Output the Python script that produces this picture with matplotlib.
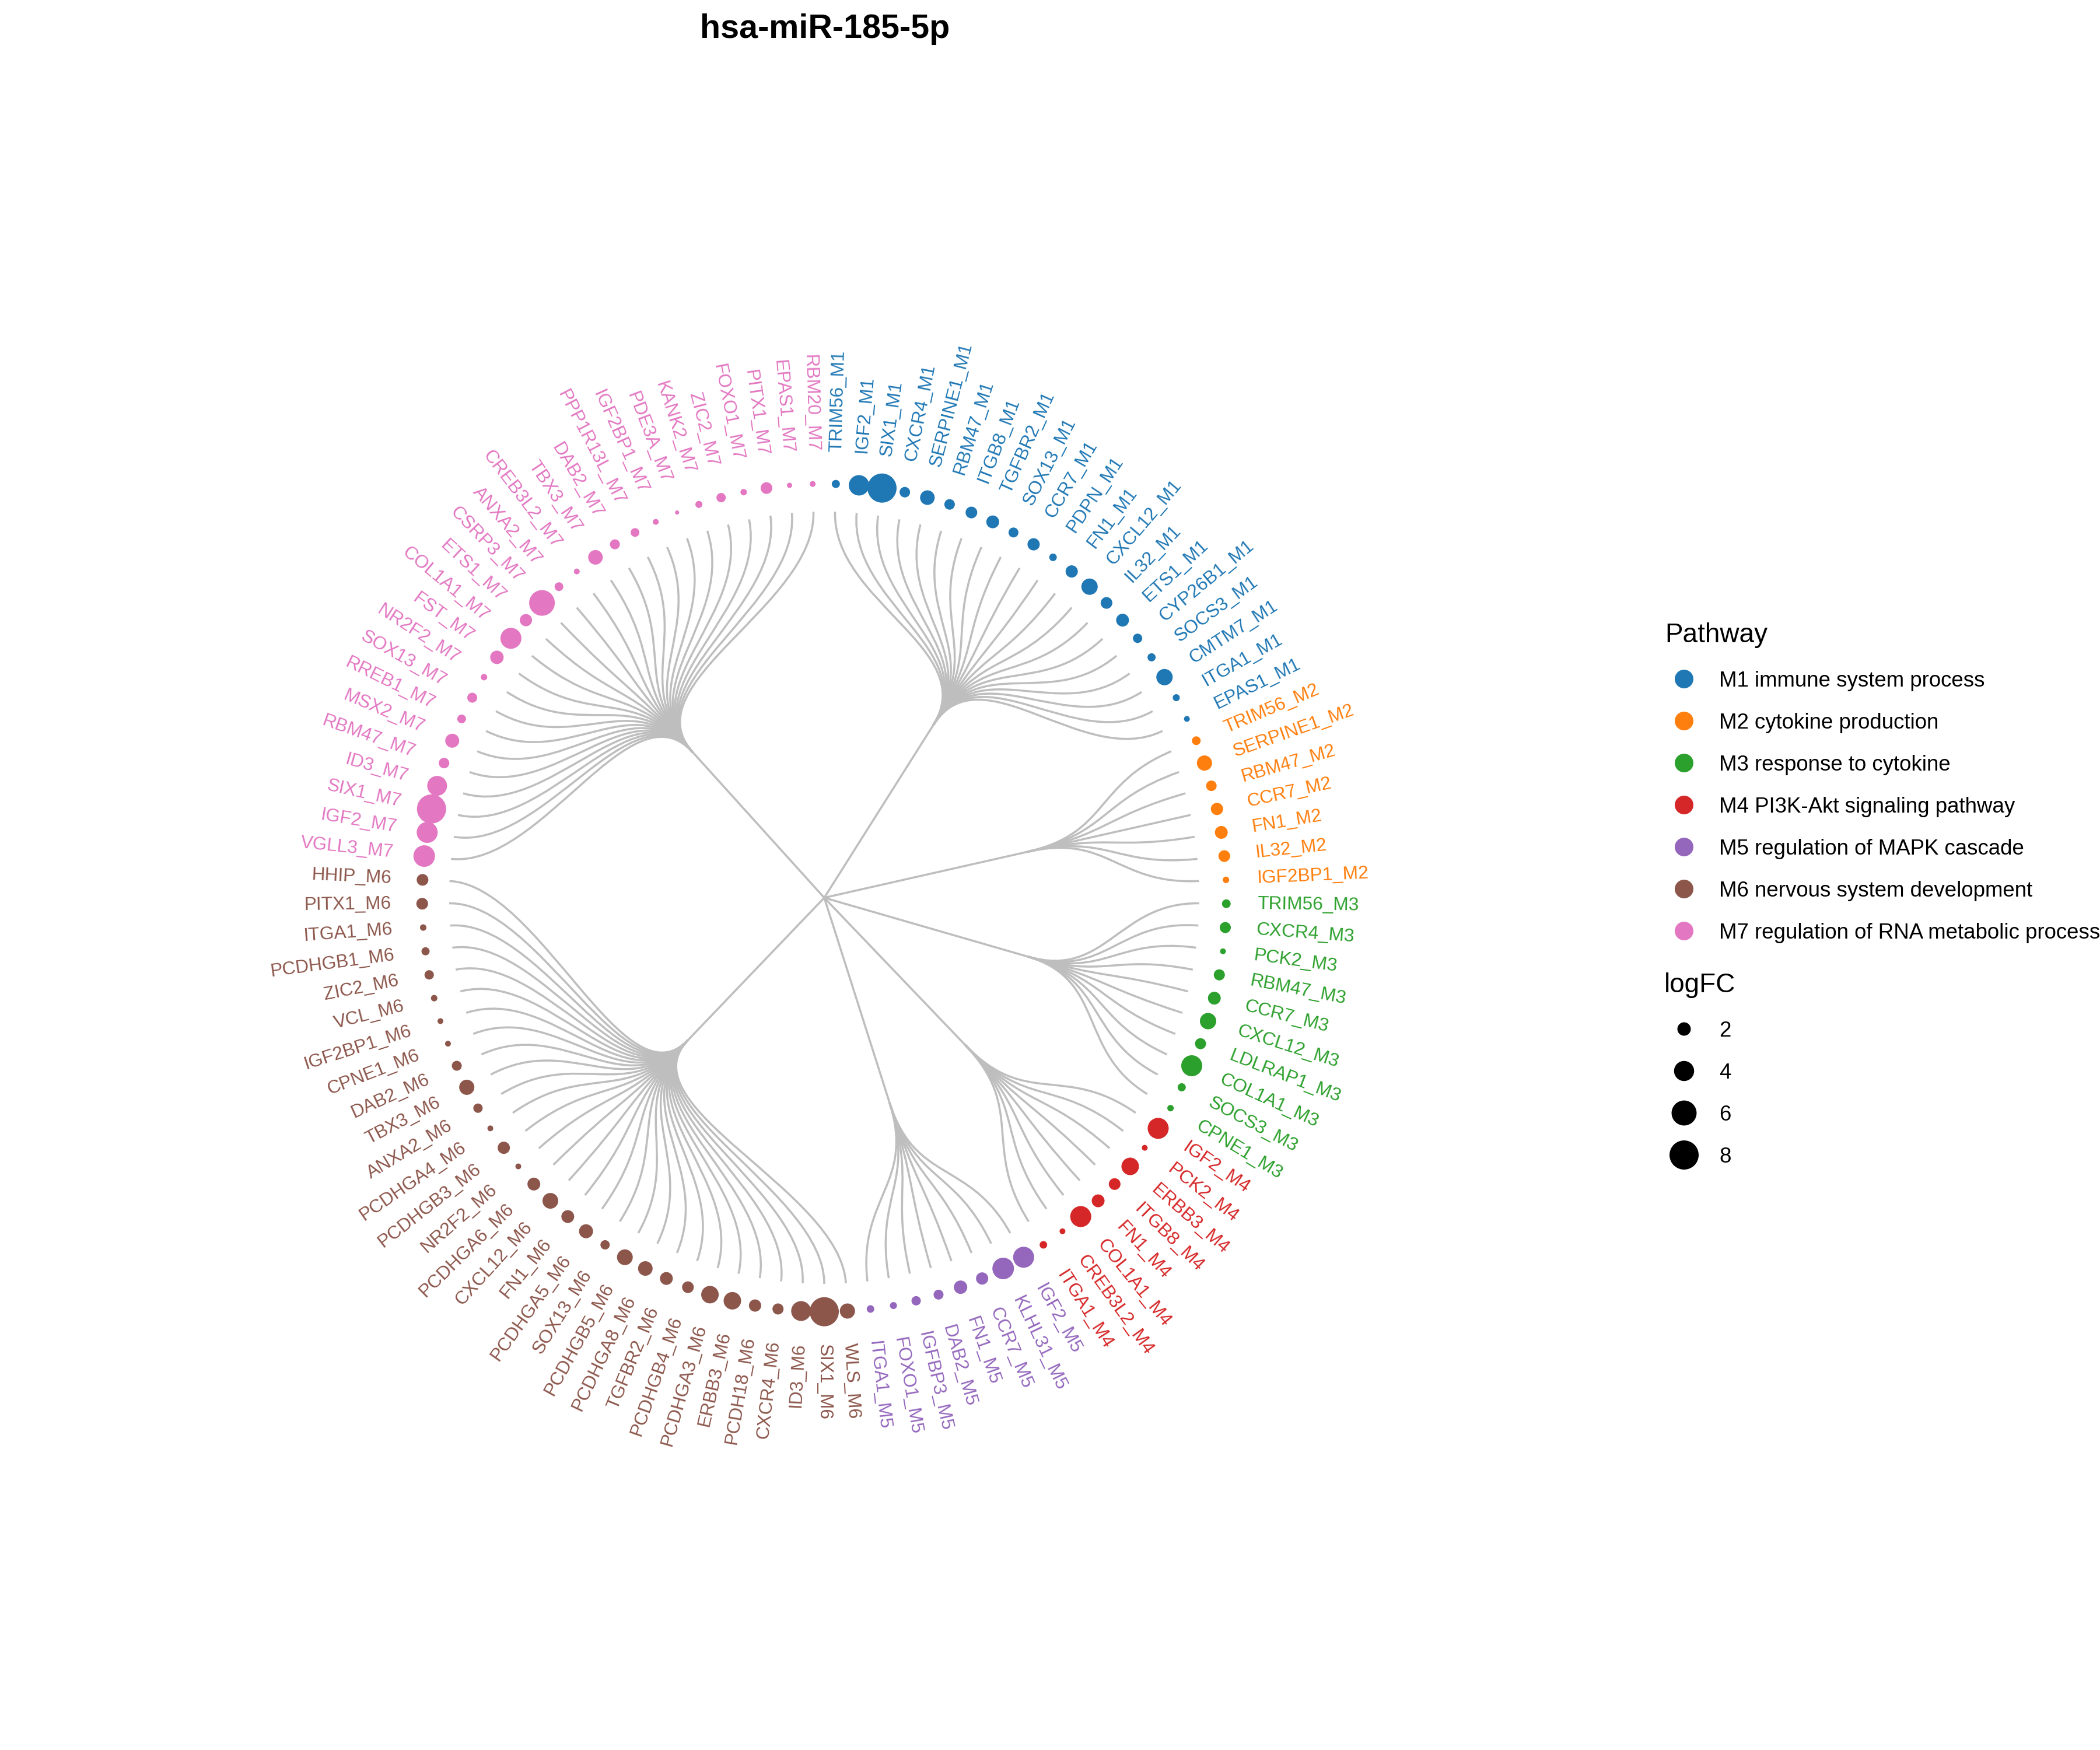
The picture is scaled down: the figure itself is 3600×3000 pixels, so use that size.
import numpy as np
import matplotlib
matplotlib.use("Agg")
import matplotlib.pyplot as plt
from matplotlib.path import Path
from matplotlib.patches import PathPatch

# ---------------- data ----------------
title = "hsa-miR-185-5p"

pathway_names = ["M1 immune system process", "M2 cytokine production",
                 "M3 response to cytokine", "M4 PI3K-Akt signaling pathway",
                 "M5 regulation of MAPK cascade", "M6 nervous system development",
                 "M7 regulation of RNA metabolic process"]
pathway_codes = ["M1", "M2", "M3", "M4", "M5", "M6", "M7"]
pathway_colors = ["#1f77b4", "#ff7f0e", "#2ca02c", "#d62728",
                  "#9467bd", "#8c564b", "#e377c2"]

m1_genes = ["TRIM56", "IGF2", "SIX1", "CXCR4", "SERPINE1", "RBM47", "ITGB8", "TGFBR2",
            "SOX13", "CCR7", "PDPN", "FN1", "CXCL12", "IL32", "ETS1", "CYP26B1",
            "SOCS3", "CMTM7", "ITGA1", "EPAS1"]
m1_logfc = [0.98, 4.12, 8.01, 1.38, 2.29, 1.38, 1.61, 1.86, 1.27, 1.73, 0.90, 1.73,
            2.78, 1.61, 1.86, 1.17, 0.98, 2.78, 0.83, 0.69]

m2_genes = ["TRIM56", "SERPINE1", "RBM47", "CCR7", "FN1", "IL32", "IGF2BP1"]
m2_logfc = [1.07, 2.45, 1.38, 1.73, 1.86, 1.61, 0.76]

m3_genes = ["TRIM56", "CXCR4", "PCK2", "RBM47", "CCR7", "CXCL12", "LDLRAP1",
            "COL1A1", "SOCS3", "CPNE1"]
m3_logfc = [1.07, 1.49, 0.69, 1.49, 1.86, 2.78, 1.49, 4.34, 0.98, 0.76]

m4_genes = ["IGF2", "PCK2", "ERBB3", "ITGB8", "FN1", "COL1A1", "CREB3L2", "ITGA1"]
m4_logfc = [4.34, 0.69, 3.13, 1.61, 1.86, 4.34, 0.69, 0.90]

m5_genes = ["IGF2", "KLHL31", "CCR7", "FN1", "DAB2", "IGFBP3", "FOXO1", "ITGA1"]
m5_logfc = [4.34, 4.56, 1.73, 2.00, 1.27, 1.17, 0.83, 0.90]

m6_genes = ["WLS", "SIX1", "ID3", "CXCR4", "PCDH18", "ERBB3", "PCDHGA3", "PCDHGB4",
            "TGFBR2", "PCDHGA8", "PCDHGB5", "SOX13", "PCDHGA5", "FN1", "CXCL12",
            "PCDHGA6", "NR2F2", "PCDHGB3", "PCDHGA4", "ANXA2", "TBX3", "DAB2",
            "CPNE1", "IGF2BP1", "VCL", "ZIC2", "PCDHGB1", "ITGA1", "PITX1", "HHIP"]
m6_logfc = [2.45, 8.01, 3.91, 1.49, 1.73, 3.13, 3.13, 1.61, 1.86, 2.29, 2.61, 1.17,
            2.14, 1.86, 2.61, 1.86, 0.69, 1.73, 0.69, 1.17, 2.45, 1.27, 0.69, 0.69,
            0.76, 1.17, 0.98, 0.76, 1.61, 1.61]

m7_genes = ["VGLL3", "IGF2", "SIX1", "ID3", "RBM47", "MSX2", "RREB1", "SOX13", "NR2F2",
            "FST", "COL1A1", "ETS1", "CSRP3", "ANXA2", "CREB3L2", "TBX3", "DAB2",
            "PPP1R13L", "IGF2BP1", "PDE3A", "KANK2", "ZIC2", "FOXO1", "PITX1",
            "EPAS1", "RBM20"]
m7_logfc = [4.56, 4.34, 8.01, 3.91, 1.38, 2.14, 1.07, 1.27, 0.76, 2.00, 4.34, 1.73,
            6.29, 1.07, 0.69, 2.29, 1.27, 1.07, 0.69, 0.54, 0.83, 1.17, 0.76, 1.61,
            0.63, 0.69]

# dendrogram heights of module nodes (root = 1, leaves = 0)
module_heights = [0.467, 0.445, 0.437, 0.464, 0.441, 0.482, 0.485]

size_breaks = [2, 4, 6, 8]

module_genes = [m1_genes, m2_genes, m3_genes, m4_genes, m5_genes, m6_genes, m7_genes]
module_logfc = [m1_logfc, m2_logfc, m3_logfc, m4_logfc, m5_logfc, m6_logfc, m7_logfc]

# ---------------- helpers ----------------
DPI = 300
def diam_px(v):
    return np.sqrt(np.maximum(328.0 * np.asarray(v, float) - 127.0, 4.0))

def s_pts(v):
    return (diam_px(v) * 72.0 / DPI) ** 2

FONT = "Liberation Sans"
plt.rcParams["font.family"] = [FONT, "DejaVu Sans"]

W, H = 3600, 3000
CX, CY = 1413, 1539        # centre in pixels (from top-left)
RX, RY = 643, 662          # leaf radius in pixels

fig = plt.figure(figsize=(W / DPI, H / DPI), dpi=DPI)
ax = fig.add_axes([0, 0, 1, 1])
ax.set_xlim(-CX / RX, (W - CX) / RX)
ax.set_ylim(-(H - CY) / RY, CY / RY)
ax.axis("off")

# leaves
labels, colors, logfc, mod_idx = [], [], [], []
for k, (g, v) in enumerate(zip(module_genes, module_logfc)):
    for gene, val in zip(g, v):
        labels.append(f"{gene}_{pathway_codes[k]}")
        colors.append(pathway_colors[k])
        logfc.append(val)
        mod_idx.append(k)
n = len(labels)
theta = (np.arange(n) + 0.5) * 2 * np.pi / n
mod_idx = np.array(mod_idx)

def pol(r, th):
    return r * np.sin(th), r * np.cos(th)

edge_col = "#BEBEBE"
edge_lw = 0.85

for k in range(len(module_genes)):
    th_leaves = theta[mod_idx == k]
    th_n = th_leaves.mean()
    r_n = 1 - module_heights[k]
    nx, ny = pol(r_n, th_n)
    ax.plot([0, nx], [0, ny], color=edge_col, lw=edge_lw, solid_capstyle="butt", zorder=1)
    r_mid = (r_n + 1) / 2
    for th in th_leaves:
        p1 = pol(r_mid, th_n)
        p2 = pol(r_mid, th)
        p3 = pol(1.0, th)
        path = Path([(nx, ny), p1, p2, p3],
                    [Path.MOVETO, Path.CURVE4, Path.CURVE4, Path.CURVE4])
        ax.add_patch(PathPatch(path, facecolor="none", edgecolor=edge_col,
                               lw=edge_lw, capstyle="butt", zorder=1))

# dots
dx, dy = pol(1.072, theta)
ax.scatter(dx, dy, s=s_pts(logfc), c=colors, edgecolors="none", zorder=3)

# labels
lx, ly = pol(1.155, theta)
for i in range(n):
    th = theta[i]
    ang = np.degrees(np.arctan2(RY * np.cos(th), RX * np.sin(th)))
    if np.sin(th) >= 0:
        rot, ha = ang, "left"
    else:
        rot, ha = ang + 180, "right"
        if rot > 180:
            rot -= 360
    ax.text(lx[i], ly[i], labels[i], rotation=rot, rotation_mode="anchor",
            ha=ha, va="center", fontsize=7.6, color=colors[i], zorder=4)

# ---------------- overlay (title + legends) ----------------
lax = fig.add_axes([0, 0, 1, 1])
lax.set_xlim(0, W)
lax.set_ylim(H, 0)
lax.axis("off")
lax.patch.set_visible(False)

lax.text(1414, 65, title, ha="center", va="baseline", fontsize=13.8,
         fontweight="bold")

lax.text(2854, 1101, "Pathway", fontsize=11, ha="left", va="baseline")
for k, (name, col) in enumerate(zip(pathway_names, pathway_colors)):
    y = 1164 + 72 * k
    lax.scatter([2887], [y], s=(32 * 72 / DPI) ** 2, color=col, edgecolors="none")
    lax.text(2947, y + 13, name, fontsize=8.8, ha="left", va="baseline")

lax.text(2853, 1701, "logFC", fontsize=11, ha="left", va="baseline")
for k, b in enumerate(size_breaks):
    y = 1764 + 72 * k
    lax.scatter([2887], [y], s=s_pts(b), color="black", edgecolors="none")
    lax.text(2947, y + 13, str(b), fontsize=8.8, ha="left", va="baseline")

fig.savefig("out.png", dpi=DPI, facecolor="white")
